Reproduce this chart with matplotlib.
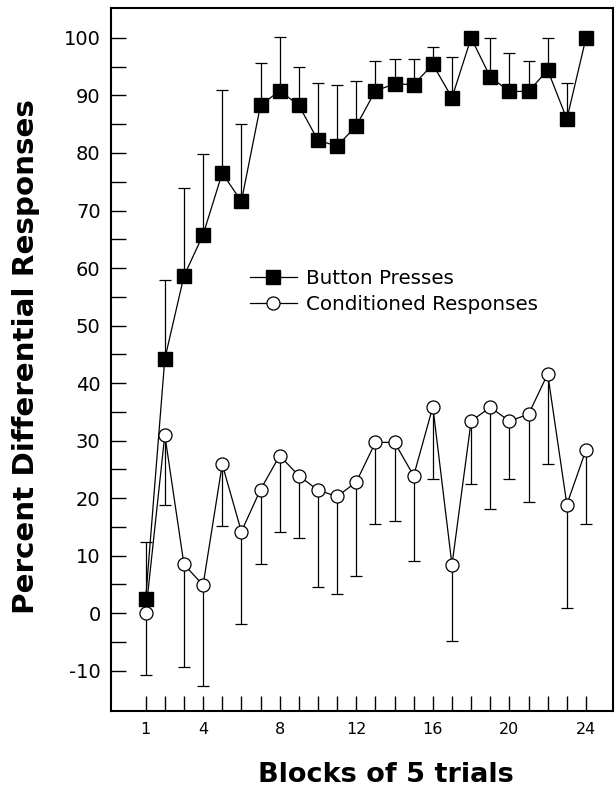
import matplotlib
matplotlib.use("Agg")
import matplotlib.pyplot as plt
import numpy as np

plt.rcParams['font.family'] = ['DejaVu Sans']

blocks = list(range(1, 25))
button_presses = [2.4, 44.2, 58.6, 65.8, 76.5, 71.6, 88.3, 90.8, 88.3, 82.2, 81.2, 84.7,
                  90.8, 92.0, 91.9, 95.4, 89.6, 100.0, 93.2, 90.7, 90.7, 94.4, 85.9, 100.0]
button_err = [10.0, 13.7, 15.4, 14.0, 14.4, 13.5, 7.4, 9.3, 6.6, 10.0, 10.6, 7.8,
              5.2, 4.3, 4.4, 3.0, 7.1, 0.0, 6.8, 6.6, 5.3, 5.6, 6.3, 0.0]
cond_resp = [0.0, 31.0, 8.5, 4.9, 25.9, 14.2, 21.5, 27.4, 23.9, 21.4, 20.3, 22.8,
             29.7, 29.7, 23.9, 35.9, 8.4, 33.4, 35.8, 33.4, 34.6, 41.6, 18.9, 28.4]
cond_err = [10.8, 12.1, 17.8, 17.6, 10.7, 16.0, 12.9, 13.3, 10.8, 16.8, 16.9, 16.3,
            14.1, 13.7, 14.8, 12.6, 13.3, 10.9, 17.7, 10.1, 15.3, 15.7, 17.9, 12.9]
x_ticklabels = ['1', '', '', '4', '', '', '', '8', '', '', '', '12',
                '', '', '', '16', '', '', '', '20', '', '', '', '24']
y_ticks = list(range(-10, 101, 5))
y_ticklabels = [str(v) if v % 10 == 0 else '' for v in y_ticks]

fig = plt.figure(figsize=(6.15, 7.88), dpi=100)
ax = fig.add_axes([111/615, 1-710.5/788, (613-111)/615, (710.5-8)/788])

zeros = [0]*len(blocks)
ax.errorbar(blocks, button_presses, yerr=[zeros, button_err], fmt='none',
            ecolor='black', elinewidth=0.9, capsize=4.2, capthick=0.9, zorder=2)
ax.plot(blocks, button_presses, '-s', color='black', mfc='black', mec='black',
        ms=9.4, lw=0.9, label='Button Presses', zorder=3)
ax.errorbar(blocks, cond_resp, yerr=[cond_err, zeros], fmt='none',
            ecolor='black', elinewidth=0.9, capsize=4.2, capthick=0.9, zorder=4)
ax.plot(blocks, cond_resp, '-o', color='black', mfc='white', mec='black', mew=0.9,
        ms=9.4, lw=0.9, label='Conditioned Responses', zorder=5)

ax.set_xlim(-0.81, 25.41)
ax.set_ylim(-16.9, 105.2)
ax.set_xticks(blocks)
ax.set_xticklabels(x_ticklabels, fontsize=11.5)
ax.set_yticks(y_ticks)
ax.set_yticklabels(y_ticklabels, fontsize=14)
ax.tick_params(axis='both', direction='in', length=10.5, width=1.0, color='black')
ax.tick_params(axis='y', pad=7.5)
ax.tick_params(axis='x', pad=8)
for s in ax.spines.values():
    s.set_linewidth(1.5)

ax.set_xlabel('Blocks of 5 trials', fontsize=19.5, fontweight='bold', va='baseline')
ax.xaxis.set_label_coords((385.5-111)/502, (710.5-782)/702.5)
ax.set_ylabel('Percent Differential Responses', fontsize=21.2, fontweight='bold',
              va='center', ha='center')
ax.yaxis.set_label_coords((26-111)/502, (710.5-356.5)/702.5)

ax.legend(loc='upper left', bbox_to_anchor=(250/615, 1-269/788),
          bbox_transform=fig.transFigure, frameon=False, fontsize=14.3,
          handlelength=2.35, handletextpad=0.45, borderpad=0, borderaxespad=0,
          labelspacing=0.36)

fig.savefig('out.png', dpi=100)
